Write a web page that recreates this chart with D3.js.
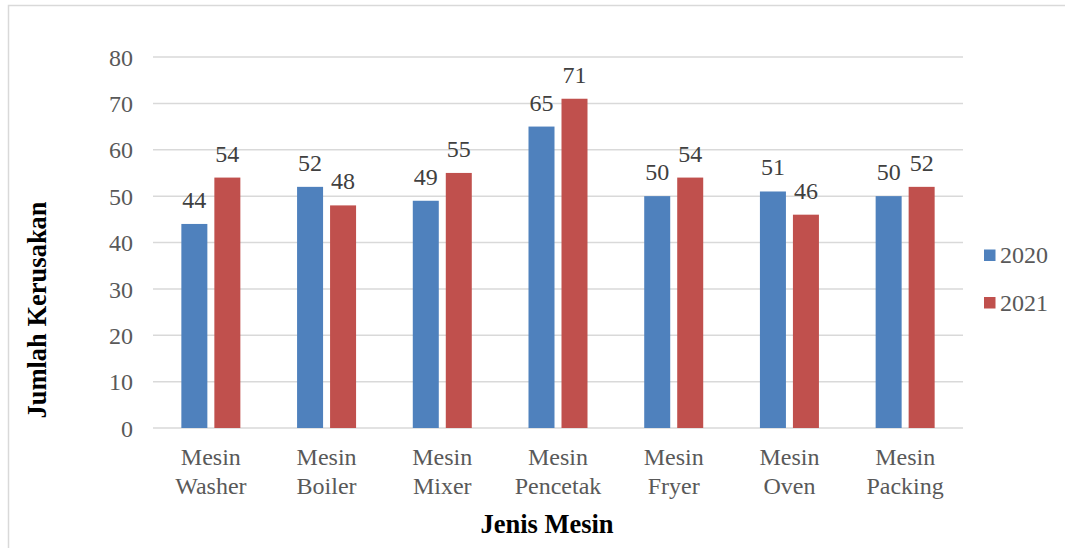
<!DOCTYPE html>
<html>
<head>
<meta charset="utf-8">
<script src="https://cdn.jsdelivr.net/npm/d3@7"></script>
<style>
  html, body { margin: 0; padding: 0; background: #fff; }
  svg { display: block; }
  svg text { font-family: "Liberation Serif", "Times New Roman", serif !important; }
</style>
</head>
<body>
<svg id="chart" width="1065" height="548"></svg>
<script>
// Machine damage counts per year
const categories = [
  ["Mesin", "Washer"],
  ["Mesin", "Boiler"],
  ["Mesin", "Mixer"],
  ["Mesin", "Pencetak"],
  ["Mesin", "Fryer"],
  ["Mesin", "Oven"],
  ["Mesin", "Packing"]
];
const seriesNames = ["2020", "2021"];
const values2020 = [44, 52, 49, 65, 50, 51, 50];
const values2021 = [54, 48, 55, 71, 54, 46, 52];
const yTicks = [0, 10, 20, 30, 40, 50, 60, 70, 80];
const colors = ["#4F81BD", "#C0504D"];

const svg = d3.select("#chart");
const W = 1065, H = 548;
const SERIF = "'Liberation Serif', 'Times New Roman', serif";

// outer frame
svg.append("rect")
  .attr("x", 8.5).attr("y", 5.5)
  .attr("width", W + 20).attr("height", H + 20)
  .attr("fill", "none").attr("stroke", "#d9d9d9").attr("stroke-width", 1.5);

const plot = { left: 153, right: 963, top: 57, bottom: 428 };

const x = d3.scaleBand()
  .domain(d3.range(categories.length))
  .range([plot.left, plot.right])
  .paddingInner(0).paddingOuter(0);

const y = d3.scaleLinear().domain([0, 80]).range([plot.bottom, plot.top]);

// gridlines
svg.append("g")
  .selectAll("line")
  .data(yTicks)
  .join("line")
  .attr("x1", plot.left).attr("x2", plot.right)
  .attr("y1", d => y(d)).attr("y2", d => y(d))
  .attr("stroke", "#d9d9d9").attr("stroke-width", 1.5);

// y axis labels
const yAxis = d3.axisLeft(y).tickValues(yTicks).tickSize(0).tickPadding(0);
const gy = svg.append("g").attr("transform", `translate(${plot.left - 20},0)`).call(yAxis);
gy.attr("font-family", null).attr("font-size", null);
gy.select(".domain").remove();
gy.selectAll("text")
  .style("font-family", SERIF)
  .style("font-size", "24px")
  .attr("fill", "#595959")
  .attr("dy", "0.34em");

// x axis labels (two lines)
const gx = svg.append("g");
categories.forEach((lines, i) => {
  const cx = x(i) + x.bandwidth() / 2;
  const t = gx.append("text")
    .attr("text-anchor", "middle")
    .style("font-family", SERIF)
    .style("font-size", "24px")
    .attr("fill", "#595959");
  lines.forEach((ln, k) => {
    t.append("tspan").attr("x", cx).attr("y", 465 + k * 29).text(ln);
  });
});

// bars
const barW = 26, gap = 7;
const series = [values2020, values2021];
series.forEach((vals, s) => {
  const offset = s === 0 ? -gap / 2 - barW : gap / 2;
  const g = svg.append("g");
  g.selectAll("rect")
    .data(vals)
    .join("rect")
    .attr("x", (d, i) => x(i) + x.bandwidth() / 2 + offset)
    .attr("y", d => y(d))
    .attr("width", barW)
    .attr("height", d => y(0) - y(d))
    .attr("fill", colors[s]);
  g.selectAll("text")
    .data(vals)
    .join("text")
    .attr("x", (d, i) => x(i) + x.bandwidth() / 2 + offset + barW / 2)
    .attr("y", d => y(d) - 16)
    .attr("text-anchor", "middle")
    .style("font-family", SERIF)
    .style("font-size", "24px")
    .attr("fill", "#404040")
    .text(d => d);
});

// legend
const legend = svg.append("g");
seriesNames.forEach((name, i) => {
  const ly = 255 + i * 47.5;
  legend.append("rect")
    .attr("x", 984).attr("y", ly - 5.5)
    .attr("width", 11.5).attr("height", 11.5)
    .attr("fill", colors[i]);
  legend.append("text")
    .attr("x", 1000).attr("y", ly + 8)
    .style("font-family", SERIF)
    .style("font-size", "24px")
    .attr("fill", "#595959")
    .text(name);
});

// axis titles
svg.append("text")
  .attr("transform", "translate(46,310) rotate(-90)")
  .attr("text-anchor", "middle")
  .style("font-family", SERIF)
  .style("font-size", "26.5px")
  .attr("font-weight", "bold")
  .attr("fill", "#000")
  .text("Jumlah Kerusakan");

svg.append("text")
  .attr("x", 547).attr("y", 533)
  .attr("text-anchor", "middle")
  .style("font-family", SERIF)
  .style("font-size", "26.5px")
  .attr("font-weight", "bold")
  .attr("fill", "#000")
  .text("Jenis Mesin");
</script>
</body>
</html>
